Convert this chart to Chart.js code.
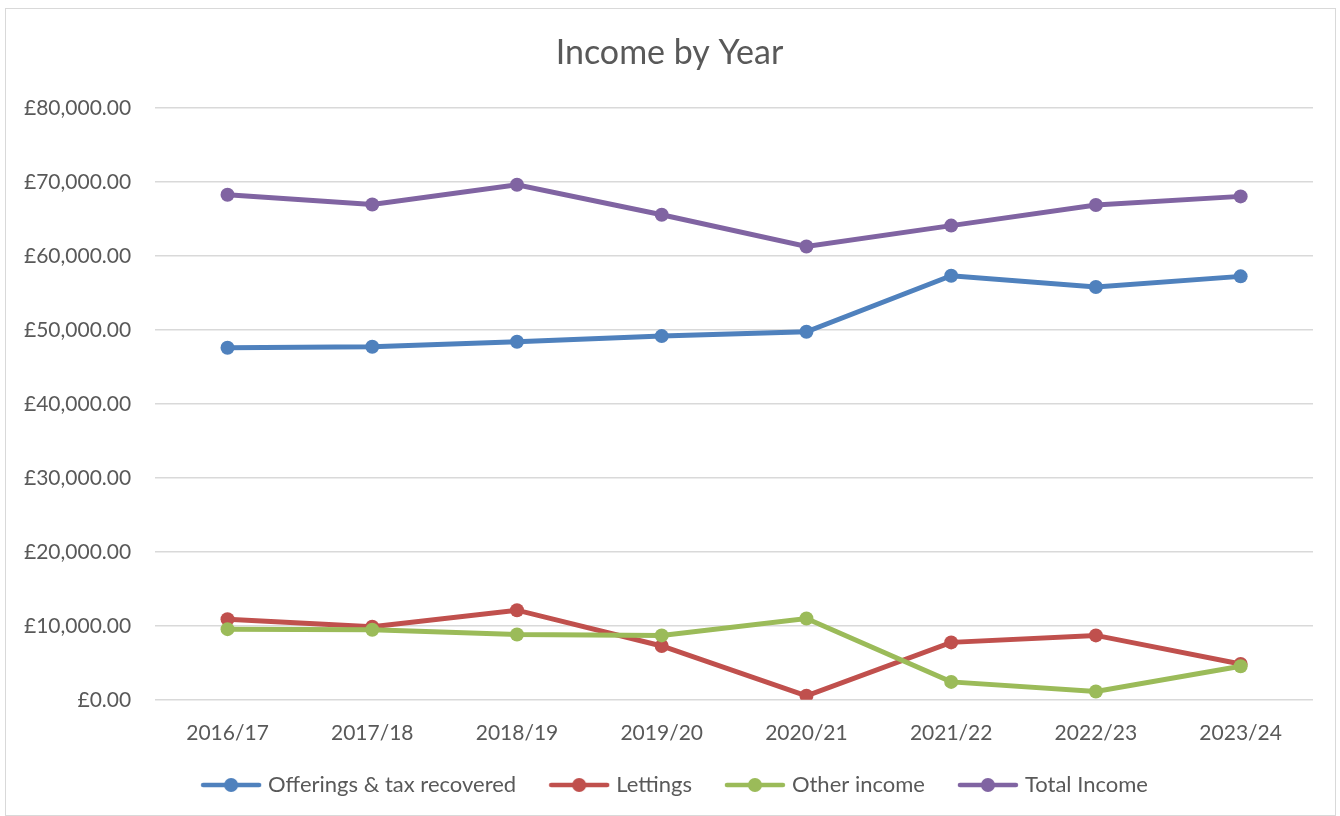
<!DOCTYPE html>
<html>
<head>
<meta charset="utf-8">
<script src="https://cdn.jsdelivr.net/npm/chart.js@4.4.1/dist/chart.umd.min.js"></script>
<style>
  html, body { margin: 0; padding: 0; background: #ffffff; }
  #wrap { position: relative; width: 1340px; height: 816px; }
  #frame { position: absolute; left: 5px; top: 8px; width: 1329px; height: 806px; border: 1px solid #d9d9d9; pointer-events: none; }
  canvas { position: absolute; left: 0; top: 0; }
</style>
</head>
<body>
<div id="wrap">
  <canvas id="c" width="1340" height="816"></canvas>
  <div id="frame"></div>
</div>
<script>
const categories = ['2016/17', '2017/18', '2018/19', '2019/20', '2020/21', '2021/22', '2022/23', '2023/24'];
const offerings = [47570, 47700, 48380, 49150, 49730, 57310, 55790, 57220];
const lettings = [10900, 9870, 12110, 7270, 540, 7760, 8700, 4840];
const otherIncome = [9550, 9460, 8830, 8700, 10990, 2420, 1120, 4530];
const totalIncome = [68250, 66940, 69600, 65550, 61260, 64080, 66860, 68030];
const seriesNames = ['Offerings & tax recovered', 'Lettings', 'Other income', 'Total Income'];
const seriesColors = ['#4F81BD', '#C0504D', '#9BBB59', '#8064A2'];
const yTicks = [0, 10000, 20000, 30000, 40000, 50000, 60000, 70000, 80000];

const FONT = 'Lato, "Open Sans", sans-serif';

function money(v) {
  const s = Math.round(v).toString().replace(/\B(?=(\d{3})+(?!\d))/g, ',');
  return '£' + s + '.00';
}

function legendIcon(color) {
  const cv = document.createElement('canvas');
  cv.width = 62; cv.height = 16;
  const g = cv.getContext('2d');
  g.strokeStyle = color; g.lineWidth = 4.5; g.lineCap = 'round';
  g.beginPath(); g.moveTo(3, 8); g.lineTo(59, 8); g.stroke();
  g.fillStyle = color;
  g.beginPath(); g.arc(31, 8, 7, 0, Math.PI * 2); g.fill();
  return cv;
}
const icons = seriesColors.map(legendIcon);

const allSeries = [offerings, lettings, otherIncome, totalIncome];
const datasets = allSeries.map((d, i) => ({
  label: seriesNames[i],
  data: d,
  borderColor: seriesColors[i],
  backgroundColor: seriesColors[i],
  borderWidth: 5,
  pointRadius: 7,
  pointHoverRadius: 7,
  pointBorderWidth: 0,
  tension: 0,
  order: i === 0 ? 3 : (i === 1 ? 2 : (i === 2 ? 1 : 0))
}));

// nudges the title and legend boxes (not the data) to match the original framing
const boxNudge = {
  id: 'boxNudge',
  afterLayout(chart) {
    if (chart.titleBlock) { chart.titleBlock.left += 13; chart.titleBlock.right += 13; }
    if (chart.legend) {
      chart.legend.left += 20; chart.legend.right += 20;
      chart.legend.top -= 22; chart.legend.bottom -= 22;
    }
  }
};

new Chart(document.getElementById('c'), {
  type: 'line',
  data: { labels: categories, datasets: datasets },
  plugins: [boxNudge],
  options: {
    responsive: false,
    animation: false,
    devicePixelRatio: 1,
    layout: { padding: { left: 0, right: 27, top: 23, bottom: -12 } },
    plugins: {
      title: {
        display: true,
        text: 'Income by Year',
        color: '#595959',
        font: { family: FONT, size: 34, weight: 'normal' },
        padding: { top: 10, bottom: 34 }
      },
      legend: {
        position: 'bottom',
        labels: {
          usePointStyle: true,
          pointStyleWidth: 52,
          color: '#595959',
          font: { family: FONT, size: 22 },
          padding: 37,
          generateLabels: (chart) => chart.data.datasets.map((ds, i) => ({
            text: ds.label,
            pointStyle: icons[i],
            fillStyle: ds.borderColor,
            strokeStyle: ds.borderColor,
            lineWidth: 0,
            fontColor: '#595959',
            hidden: false,
            datasetIndex: i
          }))
        }
      },
      tooltip: { enabled: false }
    },
    scales: {
      x: {
        offset: true,
        grid: { display: false },
        border: { display: false },
        ticks: { color: '#595959', font: { family: FONT, size: 21 }, padding: 13 }
      },
      y: {
        min: 0,
        max: 80000,
        afterBuildTicks: (axis) => { axis.ticks = yTicks.map(v => ({ value: v })); },
        grid: { color: '#d9d9d9', lineWidth: 1.5, drawTicks: false },
        border: { display: false },
        ticks: { color: '#595959', font: { family: FONT, size: 21 }, padding: 24, callback: (v) => money(v) }
      }
    }
  }
});
</script>
</body>
</html>
